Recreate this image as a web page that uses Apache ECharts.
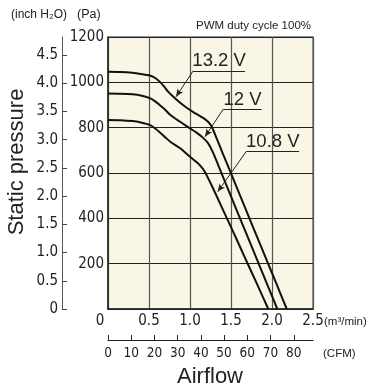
<!DOCTYPE html>
<html>
<head>
<meta charset="utf-8">
<script src="https://cdn.jsdelivr.net/npm/echarts@6/dist/echarts.min.js"></script>
<style>
html,body{margin:0;padding:0;background:#fff;}
#c{width:377px;height:390px;}
</style>
</head>
<body>
<div id="c"></div>
<script>
// ---- data ----
const airflow132 = [0, 0.15, 0.30, 0.40, 0.51, 0.58, 0.63, 0.68, 0.73, 0.80, 0.88, 0.96, 1.04, 1.16, 1.22, 1.265, 1.32, 1.40, 1.49, 1.60, 1.70, 1.80, 1.935, 2.06, 2.18];
const pressure132 = [1047, 1046, 1042, 1037, 1030, 1018, 1003, 983, 960, 935, 910, 888, 869, 843, 826, 804, 757, 686, 607, 510, 422, 334, 216, 106, 0];
const airflow120 = [0, 0.15, 0.30, 0.40, 0.51, 0.58, 0.63, 0.70, 0.76, 0.88, 1.00, 1.08, 1.16, 1.22, 1.28, 1.35, 1.45, 1.55, 1.65, 1.75, 1.85, 1.95, 2.065];
const pressure120 = [951, 950, 947, 942, 930, 915, 900, 878, 856, 826, 797, 778, 755, 732, 691, 629, 541, 453, 365, 277, 189, 101, 0];
const airflow108 = [0, 0.15, 0.30, 0.40, 0.51, 0.58, 0.63, 0.70, 0.76, 0.88, 1.00, 1.08, 1.13, 1.18, 1.25, 1.366, 1.45, 1.55, 1.683, 1.80, 1.955];
const pressure108 = [834, 833, 829, 823, 812, 795, 780, 757, 738, 709, 672, 648, 630, 606, 556, 466, 400, 322, 216, 124, 0];

const seriesNames = ['13.2 V', '12 V', '10.8 V'];
// label underline: [x start, x end, pressure]
const labelLines = [[1.04, 1.67, 1051], [1.406, 1.874, 882], [1.69, 2.33, 697]];
// arrow tip on curve: [airflow, pressure]
const arrowTips = [[0.829, 936], [1.183, 760], [1.338, 517]];

const cfmTicks = [0, 10, 20, 30, 40, 50, 60, 70, 80];
const inchTicks = [0, 0.5, 1.0, 1.5, 2.0, 2.5, 3.0, 3.5, 4.0, 4.5];
const paMax = 1200, flowMax = 2.5;
const PA_PER_INCH = 249.089;
const CFM_PER_M3MIN = 1 / 0.0283168;

const SANS = '"Liberation Sans", Arial, sans-serif';

// pick a condensed font for numbers if one is installed
function hasFont(name) {
  const c = document.createElement('canvas').getContext('2d');
  const t = '1200 0.5 abcdefWMxyz';
  c.font = '40px monospace';
  const w1 = c.measureText(t).width;
  c.font = '40px "' + name + '", monospace';
  const w2 = c.measureText(t).width;
  return Math.abs(w1 - w2) > 0.5;
}
let NUM = SANS, NUM_SIZE = 15, CFM_SIZE = 14;
if (hasFont('Liberation Sans Narrow')) { NUM = '"Liberation Sans Narrow", sans-serif'; NUM_SIZE = 17; CFM_SIZE = 16; }
else if (hasFont('DejaVu Sans Condensed')) { NUM = '"DejaVu Sans Condensed", sans-serif'; NUM_SIZE = 15; CFM_SIZE = 13.5; }

function zip(xs, ys){ return xs.map((x,i)=>[x, ys[i]]); }
const curves = [zip(airflow132, pressure132), zip(airflow120, pressure120), zip(airflow108, pressure108)];

const series = curves.map((d, i) => ({
  type: 'line',
  name: seriesNames[i],
  data: d,
  xAxisIndex: 0, yAxisIndex: 0,
  showSymbol: false, symbol: 'none',
  smooth: 0.25,
  lineStyle: { color: '#111', width: 2 },
  silent: true,
  animation: false,
  z: 5,
  markLine: {
    silent: true,
    animation: false,
    symbol: ['none', 'none'],
    lineStyle: { color: '#222', width: 1, type: 'solid' },
    label: { show: false },
    data: [
      [
        { coord: [labelLines[i][0], labelLines[i][2]], symbol: 'none',
          label: { show: true, formatter: seriesNames[i], position: 'insideMiddleTop', distance: 0,
                   fontSize: 18.5, fontFamily: SANS, color: '#222' } },
        { coord: [labelLines[i][1], labelLines[i][2]], symbol: 'none' }
      ],
      [
        { coord: [labelLines[i][0], labelLines[i][2]], symbol: 'none', label: { show: false } },
        { coord: arrowTips[i], symbol: 'arrow', symbolSize: [5, 8] }
      ]
    ]
  }
}));

const chart = echarts.init(document.getElementById('c'), null, { renderer: 'canvas' });
chart.setOption({
  animation: false,
  backgroundColor: '#fff',
  grid: { left: 108, top: 37, width: 205, height: 272, show: true, backgroundColor: '#faf6e6',
          borderColor: '#777', borderWidth: 1.5 },
  xAxis: [
    { type: 'value', min: 0, max: flowMax, interval: 0.5, position: 'bottom',
      axisLine: { show: true, lineStyle: { color: '#222', width: 1.5 } },
      axisTick: { show: false },
      splitLine: { show: true, lineStyle: { color: '#555', width: 1.2 } },
      axisLabel: { margin: 5, fontSize: NUM_SIZE, fontFamily: NUM, color: '#222',
        formatter: v => v === 0 ? '{z|0}' : v.toFixed(1),
        rich: { z: { fontSize: NUM_SIZE, fontFamily: NUM, color: '#222', padding: [0, 16, 0, 0] } } },
      name: '(m³/min)', nameLocation: 'end', nameGap: 11, nameMoveOverlap: false,
      nameTextStyle: { fontSize: 11.5, fontFamily: SANS, color: '#222', verticalAlign: 'top', align: 'left', padding: [7, 0, 0, 0] }
    },
    { type: 'value', min: 0, max: flowMax * CFM_PER_M3MIN, position: 'bottom', offset: 31,
      axisLine: { show: true, onZero: false, lineStyle: { color: '#222', width: 1 } },
      axisTick: { show: true, inside: true, length: 5, customValues: cfmTicks, lineStyle: { color: '#222' } },
      splitLine: { show: false },
      axisLabel: { margin: 6, fontSize: CFM_SIZE, fontFamily: NUM, color: '#222', customValues: cfmTicks },
      name: '(CFM)', nameLocation: 'end', nameGap: 10, nameMoveOverlap: false,
      nameTextStyle: { fontSize: 11.5, fontFamily: SANS, color: '#222', verticalAlign: 'top', align: 'left', padding: [8, 0, 0, 0] }
    }
  ],
  yAxis: [
    { type: 'value', min: 0, max: paMax, interval: 200, position: 'left',
      axisLine: { show: true, lineStyle: { color: '#222', width: 1.5 } },
      axisTick: { show: false },
      splitLine: { show: true, lineStyle: { color: '#222', width: 1 } },
      axisLabel: { margin: 4, fontSize: NUM_SIZE, fontFamily: NUM, color: '#222',
        formatter: v => v === 0 ? '' : String(v) }
    },
    { type: 'value', min: 0, max: paMax / PA_PER_INCH, position: 'left', offset: 46,
      axisLine: { show: true, onZero: false, lineStyle: { color: '#555', width: 1 } },
      axisTick: { show: true, inside: true, length: 5, customValues: inchTicks, lineStyle: { color: '#444' } },
      splitLine: { show: false },
      axisLabel: { margin: 4, fontSize: NUM_SIZE, fontFamily: NUM, color: '#222', customValues: inchTicks,
        formatter: v => v === 0 ? '0' : v.toFixed(1) }
    }
  ],
  graphic: [
    { type: 'text', x: 11, y: 15, style: { text: '(inch H₂O)', fontSize: 12, fontFamily: SANS, fill: '#222', align: 'left', verticalAlign: 'middle' } },
    { type: 'text', x: 77, y: 15, style: { text: '(Pa)', fontSize: 12.5, fontFamily: SANS, fill: '#222', align: 'left', verticalAlign: 'middle' } },
    { type: 'text', x: 311, y: 26, style: { text: 'PWM duty cycle 100%', fontSize: 11.5, fontFamily: SANS, fill: '#222', align: 'right', verticalAlign: 'middle' } },
    { type: 'text', x: 17, y: 162, rotation: Math.PI / 2, style: { text: 'Static pressure', fontSize: 22, fontFamily: SANS, fill: '#222', align: 'center', verticalAlign: 'middle' } },
    { type: 'text', x: 210, y: 377, style: { text: 'Airflow', fontSize: 22, fontFamily: SANS, fill: '#222', align: 'center', verticalAlign: 'middle' } }
  ],
  series: series
});
</script>
</body>
</html>
